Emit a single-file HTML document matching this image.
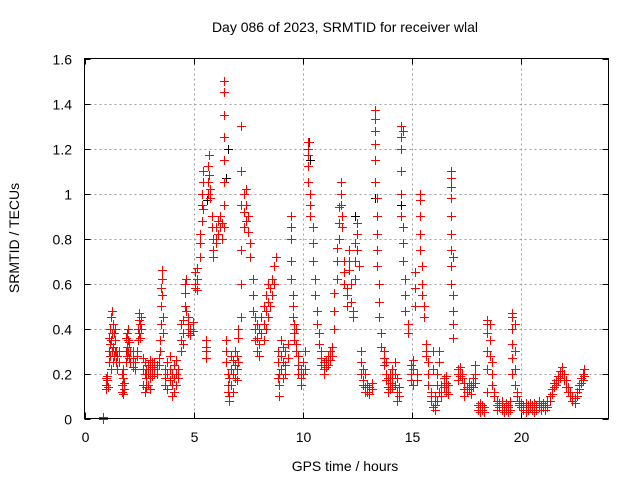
<!DOCTYPE html>
<html><head><meta charset="utf-8"><style>
body{margin:0;background:#fff}
svg{display:block;font-family:"Liberation Sans",sans-serif}
.rp{fill:#ff0000}
.bp{fill:#000000}
</style></head><body>
<svg id="chart" width="640" height="480" viewBox="0 0 640 480">
<rect width="640" height="480" fill="#fff"/>
<text x="345" y="32" font-size="14" text-anchor="middle" fill="#000">Day 086 of 2023, SRMTID for receiver wlal</text>
<text transform="translate(19,238) rotate(-90)" font-size="14" text-anchor="middle" fill="#000">SRMTID / TECUs</text>
<text x="345" y="471" font-size="14" text-anchor="middle" fill="#000">GPS time / hours</text>
<g id="grid"></g>
<g id="blackpts"></g>
<g id="redpts"></g>
<rect x="84.5" y="58.5" width="524" height="360" fill="none" stroke="#000" stroke-width="1"/>
</svg>
<script>
const xTicks=[0,5,10,15,20];
const yTicks=[0,0.2,0.4,0.6,0.8,1,1.2,1.4,1.6];
const yTickLabels=["0","0.2","0.4","0.6","0.8","1","1.2","1.4","1.6"];
const redTimes=[0.84,1.00,1.03,1.06,1.10,1.15,1.2,1.25,1.3,1.35,1.4,1.45,1.5,1.6,1.7,1.75,1.8,1.9,1.95,2.0,2.05,2.1,2.2,2.3,2.4,2.45,2.5,2.55,2.6,2.7,2.75,2.8,2.9,3.0,3.1,3.2,3.3,3.4,3.45,3.5,3.55,3.6,3.7,3.8,3.9,4.0,4.1,4.2,4.3,4.4,4.5,4.6,4.65,4.75,4.85,4.95,5.05,5.15,5.3,5.4,5.45,5.55,5.65,5.7,5.75,5.85,5.9,6.0,6.1,6.2,6.3,6.4,6.5,6.55,6.6,6.7,6.8,6.9,7.0,7.05,7.15,7.3,7.4,7.5,7.6,7.7,7.8,7.9,8.0,8.1,8.2,8.3,8.4,8.5,8.6,8.7,8.75,8.85,8.9,9.0,9.1,9.2,9.3,9.45,9.55,9.6,9.7,9.8,9.9,10.0,10.1,10.25,10.35,10.45,10.55,10.65,10.75,10.85,10.95,11.05,11.15,11.25,11.35,11.45,11.55,11.65,11.75,11.8,11.9,12.0,12.1,12.2,12.3,12.4,12.5,12.55,12.65,12.75,12.85,12.95,13.05,13.15,13.3,13.4,13.5,13.6,13.7,13.8,13.9,14.0,14.1,14.2,14.3,14.4,14.5,14.6,14.7,14.8,14.95,15.05,15.15,15.25,15.35,15.45,15.55,15.65,15.75,15.85,15.95,16.05,16.15,16.25,16.35,16.45,16.55,16.65,16.8,16.9,17.1,17.2,17.3,17.4,17.5,17.6,17.7,17.8,17.9,18.0,18.1,18.2,18.3,18.45,18.55,18.65,18.75,18.9,19.0,19.1,19.2,19.3,19.4,19.5,19.6,19.7,19.8,19.9,20.0,20.1,20.2,20.3,20.4,20.5,20.6,20.7,20.8,20.9,21.0,21.1,21.2,21.3,21.4,21.5,21.6,21.7,21.8,21.85,21.95,22.05,22.15,22.25,22.35,22.45,22.55,22.65,22.75,22.85,22.9];
const redValues=[[0,0.005,0],[0.18,0.15,0.13],[0.17,0.19],[0.14],[0.25,0.3,0.36],[0.33,0.28,0.4],[0.35,0.22,0.45],[0.48,0.38,0.3],[0.42,0.32,0.25],[0.38,0.28],[0.35,0.4,0.3],[0.3,0.25],[0.28,0.22],[0.3,0.25],[0.2,0.15,0.12],[0.18,0.11,0.22],[0.13,0.16],[0.3,0.36,0.25],[0.38,0.32,0.28],[0.4,0.35,0.3],[0.34,0.27],[0.3,0.25],[0.27,0.23,0.3],[0.25,0.22],[0.28,0.3],[0.35,0.4],[0.44,0.38,0.47],[0.42,0.36],[0.45,0.4],[0.27,0.22,0.15],[0.2,0.12,0.25],[0.18,0.22,0.14],[0.24,0.2,0.15],[0.26,0.22,0.18,0.13],[0.23,0.19,0.25],[0.25,0.22,0.2],[0.24,0.2],[0.27,0.24],[0.3,0.35],[0.42,0.5,0.58],[0.62,0.66,0.55],[0.45,0.38],[0.22,0.18,0.15],[0.25,0.2,0.13],[0.28,0.22,0.17],[0.2,0.15,0.1],[0.24,0.18,0.12],[0.26,0.2,0.15],[0.22,0.18],[0.3,0.35,0.42],[0.38,0.44,0.33],[0.5,0.56,0.6],[0.62,0.48],[0.42,0.38,0.45],[0.4,0.37],[0.43,0.39],[0.58,0.6,0.65],[0.62,0.67,0.57],[0.72,0.78,0.82],[0.88,0.95,1.0],[1.05,1.1,0.93],[0.35,0.3,0.27,0.32],[1.0,1.05,1.12],[1.17,1.08],[1.02,0.98],[0.9,0.85],[0.8,0.75,0.72],[0.78,0.8,0.85],[0.88,0.82],[0.85,0.9],[0.8,0.87],[1.5,1.45,1.35,1.25,1.15,1.05,0.95,0.85],[0.35,0.3,0.25],[0.2,0.15,0.12],[0.1,0.08,0.18],[0.22,0.28,0.15],[0.2,0.26,0.12],[0.18,0.3,0.24],[0.22,0.17,0.28],[0.36,0.4,0.25],[1.3,1.1,0.95,0.75,0.6,0.45],[0.85,0.92,1.0],[1.02,0.95,0.88],[0.9,0.83],[0.78,0.72],[0.62,0.55,0.48],[0.45,0.4,0.35],[0.42,0.36,0.3],[0.4,0.33,0.28],[0.45,0.38],[0.5,0.42,0.35],[0.55,0.48,0.4],[0.6,0.52,0.45],[0.58,0.5],[0.62,0.55],[0.68,0.6],[0.72],[0.3,0.25,0.18],[0.1,0.15,0.2],[0.35,0.28,0.22],[0.25,0.18,0.32],[0.3,0.24,0.2],[0.33,0.27],[0.9,0.85,0.8,0.7,0.62],[0.55,0.5,0.45],[0.42,0.38,0.35],[0.4,0.33,0.3],[0.28,0.24,0.2],[0.22,0.18,0.15],[0.2,0.25],[0.3,0.22],[1.23,1.2,1.17,1.12,1.05],[1.0,0.95,0.9],[0.85,0.78,0.7],[0.62,0.55],[0.48,0.42],[0.38,0.33],[0.3,0.27,0.24],[0.25,0.22,0.2],[0.26,0.23],[0.28,0.24],[0.3,0.26],[0.32,0.28],[0.4,0.48,0.56],[0.62,0.7,0.76],[0.8,0.87,0.94],[1.0,1.05,0.95],[0.9,0.85],[0.7,0.65,0.6],[0.55,0.5,0.58],[0.7,0.75,0.66],[0.6,0.52],[0.48,0.45],[0.62,0.7,0.78],[0.82,0.87,0.75],[0.68],[0.25,0.3,0.2],[0.22,0.17,0.15],[0.2,0.14,0.12],[0.15,0.12],[0.14,0.11],[0.16,0.13],[1.37,1.33,1.28,1.22,1.15,1.05],[0.98,0.9,0.82,0.75,0.68],[0.6,0.52,0.45],[0.38,0.32],[0.3,0.27,0.24],[0.25,0.2,0.17],[0.18,0.14,0.12],[0.16,0.13,0.2],[0.18,0.14,0.22],[0.25,0.2,0.15],[0.18,0.12,0.08],[0.14,0.1],[1.3,1.25,1.2,1.1,1.0,0.9],[1.28,0.85,0.78,0.7],[0.62,0.55,0.48],[0.42,0.38],[0.2,0.24,0.17],[0.26,0.22,0.15],[0.65,0.58,0.5],[0.2,0.17],[1.0,0.97,0.9,0.82,0.75],[0.68,0.6,0.55],[0.5,0.45],[0.33,0.3,0.28],[0.25,0.2,0.15],[0.12,0.1,0.08],[0.3,0.22,0.05],[0.1,0.06,0.04],[0.2,0.15,0.08],[0.3,0.25,0.12],[0.15,0.12,0.1],[0.18,0.14],[0.19,0.16,0.12],[0.15,0.11],[1.1,1.07,1.03,0.98,0.9,0.82,0.75,0.68,0.6],[0.72,0.55,0.48,0.42,0.36],[0.22,0.2,0.17],[0.23,0.19],[0.2,0.18],[0.16,0.13,0.1],[0.14,0.12],[0.16,0.13],[0.15,0.11],[0.18,0.14],[0.24,0.2,0.16],[0.06,0.04],[0.05,0.03,0.07],[0.04,0.06],[0.05,0.03],[0.42,0.44,0.38,0.3,0.22,0.12],[0.42,0.35,0.28],[0.25,0.2,0.15],[0.12,0.1],[0.08,0.06,0.04],[0.07,0.05],[0.06,0.04,0.08],[0.05,0.03],[0.07,0.04],[0.05,0.03,0.06],[0.04,0.08],[0.47,0.45,0.4,0.33,0.27,0.2],[0.42,0.3,0.22,0.15],[0.12,0.1],[0.08,0.07,0.06],[0.07,0.05],[0.06,0.04],[0.05,0.03,0.07],[0.06,0.04],[0.05,0.07],[0.04,0.06],[0.07,0.05,0.03],[0.06,0.04],[0.05,0.08],[0.06,0.04],[0.07,0.05],[0.06,0.04],[0.08,0.05],[0.1,0.08],[0.13,0.11],[0.16,0.14],[0.17,0.15],[0.19,0.17],[0.21,0.18],[0.23,0.2],[0.2,0.17],[0.17,0.14],[0.14,0.12],[0.12,0.1],[0.1,0.08],[0.09,0.07],[0.12,0.1],[0.15,0.13],[0.18,0.16],[0.2,0.17],[0.22,0.19]];
const blackTimes=[5.6,6.5,6.55,10.3,10.35,12.4,13.3,14.5,16.8];
const blackValues=[0.97,1.07,1.2,1.23,1.15,0.9,0.98,0.95,0.98];

const X0=84.5,X1=608.5,Y0=418.5,Y1=58.5,XMAX=24,YMAX=1.6;
function xs(t){return X0+(t/XMAX)*(X1-X0);}
function ys(v){return Y0-(v/YMAX)*(Y0-Y1);}
const NS="http://www.w3.org/2000/svg";
const svg=document.getElementById('chart');
const grid=document.getElementById('grid');
function mk(tag,attrs,parent){const e=document.createElementNS(NS,tag);for(const k in attrs)e.setAttribute(k,attrs[k]);parent.appendChild(e);return e;}

xTicks.forEach(function(t){
  const x=Math.round(xs(t))+0.5;
  if(t>0){
    const g=mk('line',{x1:x,x2:x,y1:Y1,y2:Y0,stroke:'#a0a0a0','stroke-dasharray':'2,3'},grid);
    
    
  }
  const tk=mk('path',{d:'M'+x+' '+Y0+'v-6M'+x+' '+Y1+'v6',stroke:'#000',fill:'none'},grid);
  
  
  const lb=mk('text',{x:x,y:442,'font-size':14,'text-anchor':'middle',fill:'#000'},svg);
  lb.textContent=String(t);
  
  
});
yTicks.forEach(function(v,i){
  const y=Math.round(ys(v))+0.5;
  if(v>0&&v<YMAX){
    const g=mk('line',{x1:X0,x2:X1,y1:y,y2:y,stroke:'#a0a0a0','stroke-dasharray':'2,3'},grid);
    
    
  }
  const tk=mk('path',{d:'M'+X0+' '+y+'h6M'+X1+' '+y+'h-6',stroke:'#000',fill:'none'},grid);
  
  
  const lb=mk('text',{x:72,y:y+5,'font-size':14,'text-anchor':'end',fill:'#000'},svg);
  lb.textContent=yTickLabels[i];
  
  
});

function plus(t,v,cls,parent){
  const x=Math.round(xs(t)),y=Math.round(ys(v));
  const g=mk('g',{'class':cls},parent);
  mk('rect',{x:x-4,y:y,width:9,height:1},g);
  mk('rect',{x:x,y:y-4,width:1,height:9},g);
  return g;
}
const bg=document.getElementById('blackpts');
blackTimes.forEach(function(t,i){
  const p=plus(t,blackValues[i],'bp',bg);
  
  
});
const rg=document.getElementById('redpts');
redTimes.forEach(function(t,i){
  redValues[i].forEach(function(v){
    const p=plus(t,v,'rp',rg);
    
    
  });
});
</script>
</body></html>
